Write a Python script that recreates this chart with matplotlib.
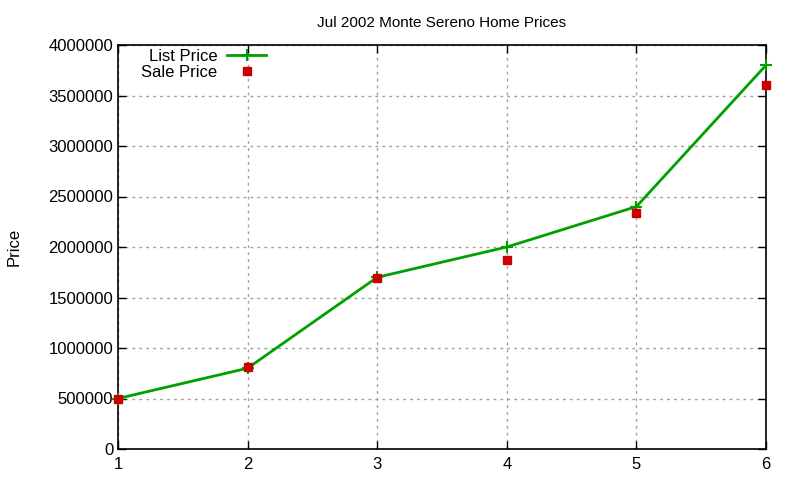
import matplotlib
matplotlib.use("Agg")
import matplotlib.pyplot as plt

x = [1, 2, 3, 4, 5, 6]
list_price = [500000, 800000, 1700000, 2000000, 2400000, 3800000]
sale_price = [495000, 810000, 1690000, 1870000, 2340000, 3600000]
title = "Jul 2002 Monte Sereno Home Prices"
ylabel = "Price"

plt.rcParams['font.family'] = ['Liberation Sans', 'DejaVu Sans']

fig = plt.figure(figsize=(8, 4.8), dpi=100)
ax = fig.add_axes([118/800, 31/480, 648/800, 404/480])

ax.plot(x, list_price, color='#00a000', lw=2, marker='+', ms=9, mew=1.5,
        label='List Price', zorder=3, clip_on=False)
ax.plot(x, sale_price, ls='none', marker='s', ms=6, color='#cc0000',
        label='Sale Price', zorder=4, clip_on=False)

ax.set_xlim(1, 6)
ax.set_ylim(0, 4000000)
ax.set_xticks(x)
ax.set_yticks(range(0, 4000001, 500000))
ax.ticklabel_format(axis='y', style='plain')
ax.grid(True, color='#a0a0a0', ls=(0, (2, 3)), lw=1)
ax.tick_params(direction='in', which='both', top=True, right=True,
               labelsize=12, length=6, width=1)
ax.tick_params(axis='x', pad=6)
for s in ax.spines.values():
    s.set_linewidth(1.2)

ax.set_title(title, fontsize=11, pad=13)
ax.set_ylabel(ylabel, fontsize=12, labelpad=19)

leg = ax.legend(loc='upper left', bbox_to_anchor=(0.018, 1.02), frameon=False,
                markerfirst=False, fontsize=12, handlelength=2.3,
                handletextpad=0.6, labelspacing=0.1, borderaxespad=0.3)

fig.savefig('out.png', dpi=100)
